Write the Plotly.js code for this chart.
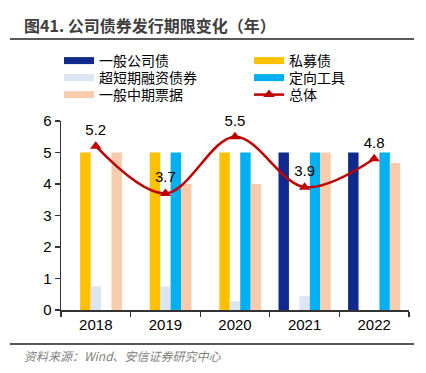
<!DOCTYPE html>
<html><head><meta charset="utf-8">
<script src="https://cdn.plot.ly/plotly-3.0.1.min.js"></script>
<style>html,body{margin:0;padding:0;background:#fff}</style>
</head><body>
<div id="chart" style="width:426px;height:373px"></div>
<script>
const years = ['2018','2019','2020','2021','2022'];
const generalCorp = [null, null, null, 5, 5];      // 一般公司债
const privatePlace = [5, 5, 5, null, null];        // 私募债
const superShort = [0.75, 0.75, 0.28, 0.44, null]; // 超短期融资债券
const directional = [null, 5, 5, 5, 5];            // 定向工具
const mtn = [5, 4, 4, 5, 4.67];                    // 一般中期票据
const overall = [5.2, 3.7, 5.5, 3.9, 4.8];         // 总体
const overallLabels = ['5.2','3.7','5.5','3.9','4.8'];

const seriesNames = ['一般公司债','私募债','超短期融资债券','定向工具','一般中期票据'];
const seriesData = [generalCorp, privatePlace, superShort, directional, mtn];
const seriesColors = ['#0F2A8C','#FFC000','#DCE6F2','#00B0F0','#F8CBAD'];
const legendIds = ['legend','legend2','legend3','legend4','legend5','legend6'];

const font = 'Liberation Sans, Arial, Noto Sans CJK SC, sans-serif';
const traces = [];
seriesData.forEach((d, i) => {
  traces.push({type:'bar', x: years, y: d, name: seriesNames[i], legendgroup: 'g'+i,
    showlegend:false, marker:{color: seriesColors[i]}, hoverinfo:'skip'});
});
// legend entries drawn as long swatches
seriesData.forEach((d, i) => {
  traces.push({type:'scatter', mode:'lines', x:[null], y:[null], name: seriesNames[i],
    legendgroup:'g'+i, legend: legendIds[i], line:{color: seriesColors[i], width:7}});
});
traces.push({type:'scatter', mode:'lines+markers+text', x: years, y: overall, name:'总体',
  legend:'legend6', cliponaxis:false,
  line:{color:'#C00000', width:2.5, shape:'spline', smoothing:1},
  marker:{symbol:'triangle-up', size:10, color:'#C00000'},
  text: overallLabels, textposition:'top center', textfont:{size:15, color:'#000', family:font}});

const L = 61, R = 409, T = 121, B = 310;
const px = v => (v - L) / (R - L);
const py = v => (B - v) / (B - T);

function leg(xs, yc){
  return {orientation:'h', x:px(xs), y:py(yc), xanchor:'left', yanchor:'middle',
    font:{size:14, family:font, color:'#000'}, itemwidth:30, bgcolor:'rgba(0,0,0,0)'};
}

const layout = {
  width:426, height:373,
  margin:{l:L, r:426-R, t:T, b:373-B, pad:0},
  paper_bgcolor:'#fff', plot_bgcolor:'#fff',
  font:{family:font, color:'#000'},
  barmode:'group', bargap:0.25, bargroupgap:0,
  showlegend:true,
  legend: leg(59, 61), legend2: leg(249, 61),
  legend3: leg(59, 78), legend4: leg(249, 78),
  legend5: leg(59, 95), legend6: leg(249, 95),
  xaxis:{type:'category', showline:true, linecolor:'#333', linewidth:1.5,
    ticks:'outside', ticklen:5, tickcolor:'#333', tickwidth:1.2, tickson:'boundaries',
    tickfont:{size:15, family:font, color:'#000'}, showgrid:false, zeroline:false},
  yaxis:{range:[0,6], dtick:1, showline:true, linecolor:'#333', linewidth:1.5,
    ticks:'outside', ticklen:5, tickcolor:'#333', tickwidth:1.2,
    tickfont:{size:15, family:font, color:'#000'}, showgrid:false, zeroline:false},
  shapes:[
    {type:'line', xref:'paper', yref:'paper', x0:px(10), x1:px(414), y0:py(39), y1:py(39), line:{color:'#222', width:1.5}},
    {type:'line', xref:'paper', yref:'paper', x0:px(10), x1:px(414), y0:py(344), y1:py(344), line:{color:'#222', width:1.5}}
  ],
  annotations:[
    {xref:'paper', yref:'paper', x:px(22), y:py(25), xanchor:'left', yanchor:'middle', showarrow:false,
     text:'<b>图41. 公司债券发行期限变化（年）</b>', font:{size:16, family:'Noto Sans CJK SC, sans-serif', color:'#404040'}},
    {xref:'paper', yref:'paper', x:px(22), y:py(355), xanchor:'left', yanchor:'middle', showarrow:false,
     text:'<i>资料来源：Wind、安信证券研究中心</i>', font:{size:12, family:'Noto Sans CJK SC, sans-serif', color:'#7F7F7F'}}
  ]
};
Plotly.newPlot('chart', traces, layout, {displayModeBar:false, staticPlot:true});
</script>
</body></html>
